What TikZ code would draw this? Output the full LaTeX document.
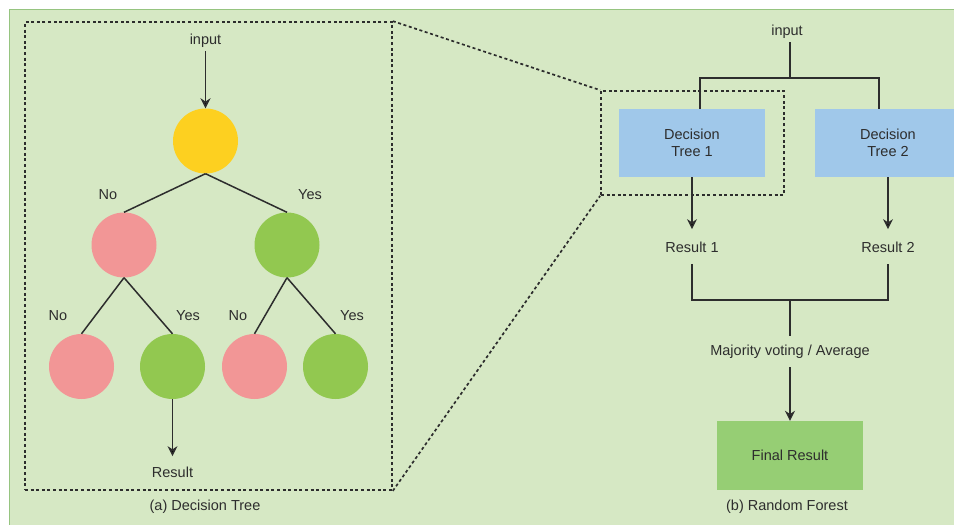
\documentclass[tikz,border=0pt]{standalone}
\usepackage{fontspec}
\setmainfont{Liberation Sans}
\usetikzlibrary{arrows.meta,positioning,trees}
\definecolor{bgreen}{RGB}{214,232,196}
\definecolor{bline}{RGB}{150,196,128}
\definecolor{nyellow}{RGB}{253,208,32}
\definecolor{npink}{RGB}{242,150,150}
\definecolor{ngreen}{RGB}{146,200,80}
\definecolor{nblue}{RGB}{160,200,234}
\definecolor{fgreen}{RGB}{150,206,116}
\definecolor{ink}{RGB}{45,45,45}

\begin{document}
\begin{tikzpicture}[x=1pt,y=-1pt,>={Stealth[length=10pt,width=10pt]},
        every node/.style={font=\fontsize{14.5}{17}\selectfont,text=ink,align=center},
        dot/.style={circle,minimum size=65pt,inner sep=0},
        box/.style={rectangle,minimum width=146pt,minimum height=68pt},
        dotbox/.style={draw=ink,line width=1.7pt,dash pattern=on 3pt off 2.6pt},
        line/.style={draw=ink,line width=1.5pt},
        parent anchor=south,child anchor=north,
        edge from parent/.style={line},
level 1/.style={sibling distance=163pt,level distance=104pt},
level 2/.style={sibling distance=91pt,level distance=121.5pt},
        ]

\useasboundingbox (0,0) rectangle (954,525);
\clip (0,0) rectangle (954,525);
\fill[bgreen] (9,9) rectangle (954,525);
\draw[bline,line width=1pt] (9,525) -- (9,9) -- (954,9);

\node[dot,fill=nyellow] (root) at (205.5,141) {}
    child {node[dot,fill=npink] (N1) {}
    	child[xshift=3pt] {node[dot,fill=npink] (N2) {}}
    	child[xshift=3pt] {node[dot,fill=ngreen] (Y2) {}}
    }
    child {node[dot,fill=ngreen] (Y1) {}
    	child[xshift=13pt] {node[dot,fill=npink] (N3) {}}
    	child[xshift=3pt] {node[dot,fill=ngreen] (Y3) {}}
    };

\node (no1) at (108,195) {No};
\node (yes1) at (310,195) {Yes};
\node (no2) at (58,316) {No};
\node (yes2) at (188,316) {Yes};
\node (no3) at (238,316) {No};
\node (yes3) at (352,316) {Yes};

\node (in1) at (205.5,41) {input};
\node (res0) at (Y2 |- 0,472) {Result};
\node (capA) at (205,507) {(a) Decision Tree};
    \path[line,->] (in1) edge (root);
    \path[line,->] (Y2) edge[shorten >=7pt] (res0);

\node[dotbox,minimum width=367pt,minimum height=468pt] (frameA) at (208.5,256) {};

\node (in2) at (787,32) {input};
\coordinate (split) at (790,78);
\node[box,fill=nblue] (T1) at (692,143) {Decision\\Tree 1};
\node[box,fill=nblue] (T2) at (888,143) {Decision\\Tree 2};
    \draw[line] (split |- in2.south) -- (split);
    \draw[line] ([xshift=8pt]T1.north) |- (split) -| ([xshift=-9pt]T2.north);

\node[dotbox,minimum width=183pt,minimum height=104pt] (frameB) at (692.5,143) {};
    \draw[dotbox] (frameA.north east) -- (frameB.north west);
    \draw[dotbox] (frameA.south east) -- (frameB.south west);

\node (R1) at (692,247) {Result 1};
\node (R2) at (888,247) {Result 2};
    \path[line,->] (T1) edge[shorten >=9pt] (R1);
    \path[line,->] (T2) edge[shorten >=9pt] (R2);

\coordinate (merge) at (790,300);
    \draw[line,shorten <=8pt,shorten >=8pt] (R1) |- (merge) -| (R2);

\node (vote) at (790,352) {Majority voting / Average};
\node[box,fill=fgreen,minimum height=69pt] (final) at (790,455.5) {Final Result};
\node (capB) at (787,507) {(b) Random Forest};
    \path[line] (merge) edge[shorten >=6pt] (vote);
    \path[line,->] (vote) edge[shorten <=5pt] (final);

\end{tikzpicture}
\end{document}
